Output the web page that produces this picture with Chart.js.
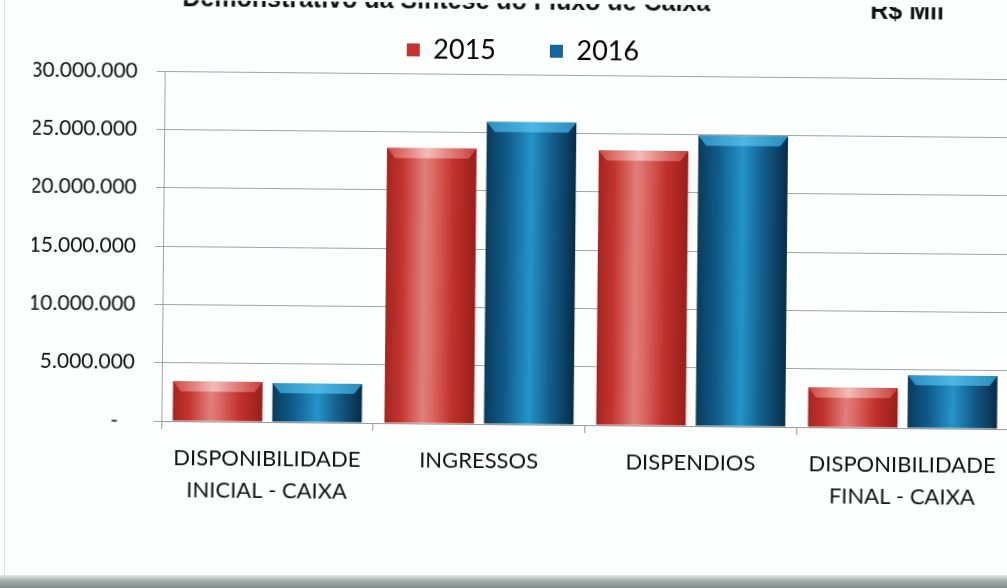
<!DOCTYPE html>
<html>
<head>
<meta charset="utf-8">
<title>Demonstrativo da Síntese do Fluxo de Caixa</title>
<script src="https://cdn.jsdelivr.net/npm/chart.js@4.4.1/dist/chart.umd.min.js"></script>
<style>
  html, body { margin: 0; padding: 0; background: #fdfefe; overflow: hidden; }
  #wrap { position: relative; width: 1007px; height: 588px; overflow: hidden; }
  #chart { position: absolute; left: 0; top: 0; transform: rotate(0.55deg); transform-origin: 163px 250px; }
  #edge { position: absolute; left: 4px; top: 0; width: 1px; height: 576px; background: #dde5e9; }
  #band { position: absolute; left: 0; right: 0; bottom: 0; height: 13px;
          background: linear-gradient(#e4e8e8, #a3abab 45%, #838d8d); }
</style>
</head>
<body>
<div id="wrap">
  <div id="edge"></div>
  <canvas id="chart" width="1045" height="588"></canvas>
  <div id="band"></div>
</div>
<script>
// categories and yearly values (R$ Mil)
const categories = [
  ['DISPONIBILIDADE', 'INICIAL - CAIXA'],
  'INGRESSOS',
  'DISPENDIOS',
  ['DISPONIBILIDADE', 'FINAL - CAIXA']
];
const years = ['2015', '2016'];
const values2015 = [3400000, 23600000, 23550000, 3400000];
const values2016 = [3350000, 25900000, 24900000, 4550000];
const yMax = 30000000;
const yStep = 5000000;

const chartTitle = 'Demonstrativo da Síntese do Fluxo de Caixa';
const unitLabel = 'R$ Mil';

// shading for the cylinder-like bars
const palette = [
  {
    solid: '#c3342e',
    body: [[0, '#a52420'], [0.18, '#c3352f'], [0.42, '#e07f7a'], [0.52, '#db6a65'], [0.75, '#c0312c'], [1, '#9a1e1a']],
    top: [[0, '#cf4541'], [0.45, '#f3bcb8'], [1, '#c73c38']]
  },
  {
    solid: '#17669a',
    body: [[0, '#0a3b5b'], [0.22, '#0f5a88'], [0.5, '#2394c9'], [0.72, '#13608f'], [1, '#062c46']],
    top: [[0, '#2b8fc1'], [0.5, '#4db6e2'], [1, '#2a8cbd']]
  }
];

function thousands(v) {
  return String(v).replace(/\B(?=(\d{3})+(?!\d))/g, '.');
}

function makeGradient(ctx, left, right, stops) {
  const g = ctx.createLinearGradient(left, 0, right, 0);
  stops.forEach(s => g.addColorStop(s[0], s[1]));
  return g;
}

// per-bar horizontal gradient, then a bevelled top face
const barShading = {
  id: 'barShading',
  beforeDatasetsDraw(chart) {
    const ctx = chart.ctx;
    chart.data.datasets.forEach((ds, di) => {
      chart.getDatasetMeta(di).data.forEach(bar => {
        const left = bar.x - bar.width / 2;
        bar.options.backgroundColor = makeGradient(ctx, left, left + bar.width, palette[di].body);
      });
    });
  },
  afterDatasetsDraw(chart) {
    const ctx = chart.ctx;
    chart.data.datasets.forEach((ds, di) => {
      chart.getDatasetMeta(di).data.forEach(bar => {
        const left = bar.x - bar.width / 2;
        const right = left + bar.width;
        const depth = Math.min(10, (bar.base - bar.y) / 2);
        ctx.save();
        ctx.beginPath();
        ctx.moveTo(left, bar.y);
        ctx.lineTo(right, bar.y);
        ctx.lineTo(right - 8, bar.y + depth);
        ctx.lineTo(left + 8, bar.y + depth);
        ctx.closePath();
        ctx.fillStyle = makeGradient(ctx, left, right, palette[di].top);
        ctx.fill();
        ctx.restore();
      });
    });
  }
};

// header line: title and unit
const header = {
  id: 'header',
  afterDraw(chart) {
    const ctx = chart.ctx;
    ctx.save();
    ctx.fillStyle = '#111';
    ctx.font = 'bold 25px "Liberation Sans", Arial, sans-serif';
    ctx.textBaseline = 'alphabetic';
    ctx.textAlign = 'left';
    ctx.fillText(chartTitle, 180, 6);
    ctx.fillText(unitLabel, 868, 12);
    ctx.restore();
  }
};

new Chart(document.getElementById('chart'), {
  type: 'bar',
  data: {
    labels: categories,
    datasets: [
      { label: years[0], data: values2015, backgroundColor: () => palette[0].solid },
      { label: years[1], data: values2016, backgroundColor: () => palette[1].solid }
    ]
  },
  options: {
    responsive: false,
    animation: false,
    categoryPercentage: 0.94,
    barPercentage: 0.9,
    layout: { padding: { top: -20, right: 35, bottom: 67, left: 32 } },
    plugins: {
      legend: {
        position: 'top',
        labels: {
          padding: 54,
          boxWidth: 13,
          boxHeight: 13,
          color: '#111',
          font: { family: 'Lato', size: 27 },
          generateLabels: chart => chart.data.datasets.map((ds, i) => ({
            text: ds.label,
            fillStyle: palette[i].solid,
            strokeStyle: palette[i].solid,
            lineWidth: 0,
            datasetIndex: i
          }))
        }
      },
      tooltip: { enabled: false }
    },
    scales: {
      x: {
        afterFit: scale => { scale.height = 100; },
        grid: { drawOnChartArea: false, tickLength: 8, color: '#9a9a9a' },
        border: { color: '#9a9a9a' },
        ticks: {
          padding: 13,
          color: '#111',
          font: { family: 'Lato', size: 22, lineHeight: 1.45 },
          maxRotation: 0
        }
      },
      y: {
        min: 0,
        max: yMax,
        afterFit: scale => { scale.width = 131; },
        grid: { color: '#a3a3a3', tickLength: 8 },
        border: { color: '#a3a3a3' },
        ticks: {
          stepSize: yStep,
          padding: 19,
          color: '#111',
          font: { family: 'Lato', size: 21 },
          callback: v => v === 0 ? '-   ' : thousands(v)
        }
      }
    }
  },
  plugins: [barShading, header]
});
</script>
</body>
</html>
